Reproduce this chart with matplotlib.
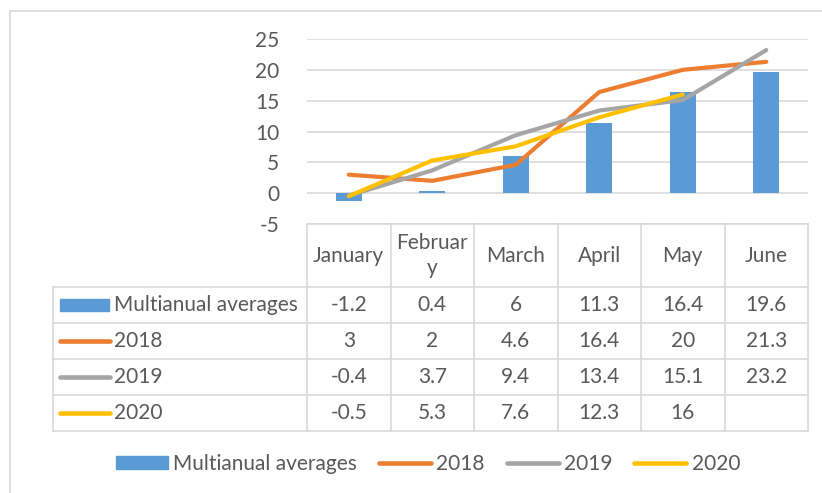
import matplotlib.pyplot as plt
from matplotlib.patches import Rectangle
from matplotlib.lines import Line2D
import numpy as np

# data
months = ['January', 'February', 'March', 'April', 'May', 'June']
header_labels = ['January', 'Februar\ny', 'March', 'April', 'May', 'June']
series_names = ['Multianual averages', '2018', '2019', '2020']
multianual = [-1.2, 0.4, 6, 11.3, 16.4, 19.6]
y2018 = [3, 2, 4.6, 16.4, 20, 21.3]
y2019 = [-0.4, 3.7, 9.4, 13.4, 15.1, 23.2]
y2020 = [-0.5, 5.3, 7.6, 12.3, 16]
yticks = [-5, 0, 5, 10, 15, 20, 25]

BLUE = '#5B9BD5'
ORANGE = '#ED7D31'
GRAY = '#A5A5A5'
YELLOW = '#FFC000'
TEXT = '#595959'
GRID = '#D9D9D9'

plt.rcParams['font.family'] = ['Lato', 'DejaVu Sans']
plt.rcParams['axes.unicode_minus'] = False
FS = 15

W, H = 822, 493
fig = plt.figure(figsize=(W / 100, H / 100), dpi=100)


def box(l, t, r, b):
    # pixel box -> figure fraction
    return [l / W, 1 - b / H, (r - l) / W, (b - t) / H]


# outer chart border (cropped on right/bottom)
fig.patches.append(Rectangle((10 / W, -0.2), 2, 1 - 11 / H + 0.2, transform=fig.transFigure,
                             fill=False, ec=GRID, lw=1.2))

# ---- plot area
ax = fig.add_axes(box(307, 39, 808, 224))
x = np.arange(len(months))
ax.bar(x, multianual, width=0.31, color=BLUE, zorder=2)
lines = [(y2018, ORANGE), (y2019, GRAY), (y2020, YELLOW)]
for vals, c in lines:
    ax.plot(x[:len(vals)], vals, color=c, lw=3, solid_capstyle='round', zorder=3)
ax.set_xlim(-0.5, 5.5)
ax.set_ylim(-5, 25)
ax.set_yticks(yticks)
ax.set_xticks([])
ax.yaxis.grid(True, color=GRID, lw=1.2, zorder=0)
ax.set_axisbelow(True)
for s in ax.spines.values():
    s.set_visible(False)
ax.tick_params(axis='y', length=0, pad=20, labelsize=FS, labelcolor=TEXT)

# ---- data table
col_w = 501 / 6  # pixels per category
lab_left = -0.5 - (307 - 53) / col_w
tax = fig.add_axes(box(53, 224, 808, 431))
tax.set_xlim(lab_left, 5.5)
tax.set_ylim(207, 0)
tax.axis('off')

head_h, row_h = 63, 36
row_tops = [head_h + i * row_h for i in range(len(series_names) + 1)]
# horizontal lines
tax.plot([-0.5, 5.5], [0, 0], color=GRID, lw=1.2, clip_on=False)
for yy in row_tops:
    tax.plot([lab_left, 5.5], [yy, yy], color=GRID, lw=1.2, clip_on=False)
# vertical lines
for i in range(len(months) + 1):
    tax.plot([-0.5 + i, -0.5 + i], [0, row_tops[-1]], color=GRID, lw=1.2, clip_on=False)
tax.plot([lab_left, lab_left], [head_h, row_tops[-1]], color=GRID, lw=1.2, clip_on=False)

for i, lab in enumerate(header_labels):
    tax.text(x[i], head_h / 2, lab, ha='center', va='center', fontsize=FS, color=TEXT,
             linespacing=1.3)

table_rows = [multianual, y2018, y2019, y2020]
row_colors = [BLUE, ORANGE, GRAY, YELLOW]
for r, (name, vals, c) in enumerate(zip(series_names, table_rows, row_colors)):
    yc = row_tops[r] + row_h / 2
    if r == 0:
        tax.add_patch(Rectangle((lab_left + 7 / col_w, yc - 6), 49 / col_w, 12, color=c))
    else:
        tax.plot([lab_left + 7 / col_w, lab_left + 57 / col_w], [yc, yc], color=c, lw=3.3,
                 solid_capstyle='round')
    tax.text(lab_left + 61 / col_w, yc, name, ha='left', va='center', fontsize=FS, color=TEXT)
    for i, v in enumerate(vals):
        tax.text(x[i], yc, f'{v:g}', ha='center', va='center', fontsize=FS, color=TEXT)

# ---- bottom legend
handles = [Rectangle((0, 0), 1, 1, color=BLUE)] + \
          [Line2D([], [], color=c, lw=3.3, solid_capstyle='round') for _, c in lines]
fig.legend(handles, series_names, loc='center', bbox_to_anchor=(428 / W, 1 - 464 / H),
           ncol=4, frameon=False, fontsize=FS, labelcolor=TEXT, handlelength=2.5,
           handleheight=0.6, handletextpad=0.25, columnspacing=1.05)

fig.savefig('out.png', dpi=100)
